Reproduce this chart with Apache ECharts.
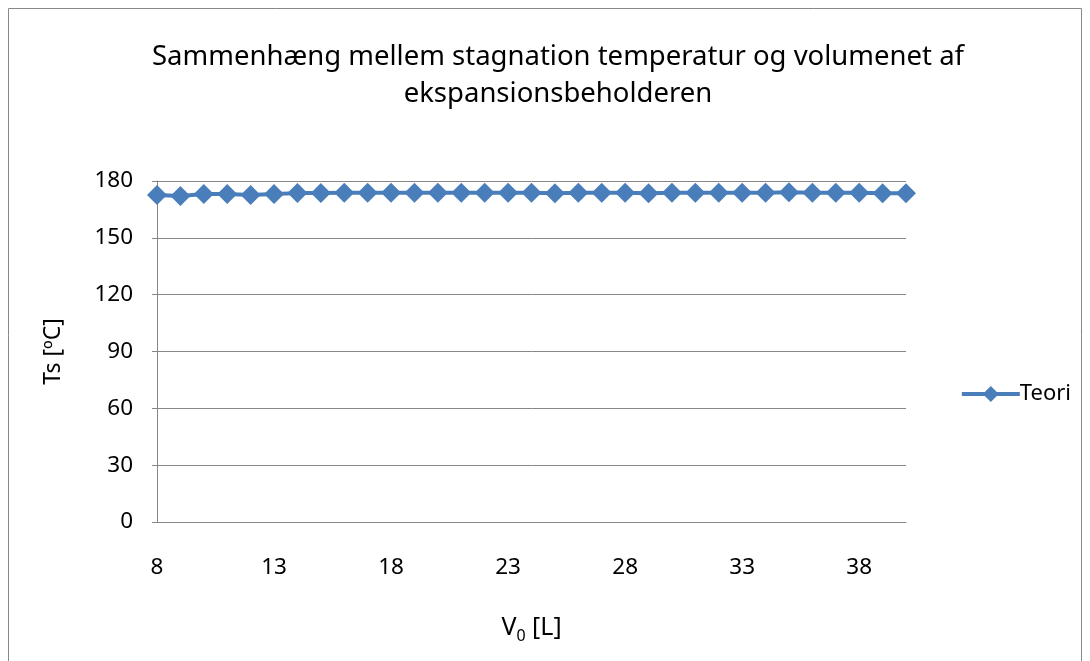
<!DOCTYPE html>
<html>
<head>
<meta charset="utf-8">
<title>Stagnation temperatur</title>
<script src="https://cdn.jsdelivr.net/npm/echarts@6/dist/echarts.min.js"></script>
<style>
  html, body { margin: 0; padding: 0; background: #fff; }
  #chart { width: 1090px; height: 661px; }
</style>
</head>
<body>
<div id="chart"></div>
<script>
// V0 [L] categories
const volumes = [8, 9, 10, 11, 12, 13, 14, 15, 16, 17, 18, 19, 20, 21, 22, 23, 24,
  25, 26, 27, 28, 29, 30, 31, 32, 33, 34, 35, 36, 37, 38, 39, 40]
// Ts [°C], Teori
const teori = [172.6, 172.1, 173.1, 173.1, 172.6, 173.1, 173.6, 173.6, 173.8, 173.8,
  173.8, 173.8, 173.8, 173.8, 173.8, 173.8, 173.8, 173.5, 173.8, 173.8, 173.8, 173.5,
  173.8, 173.8, 173.8, 173.8, 173.8, 174.1, 173.8, 173.8, 173.8, 173.5, 173.5]
const yTicks = { min: 0, max: 180, interval: 30 }

const BLUE = '#4a7ebb'
const GRID_GRAY = '#878787'
const FONT = "'Noto Sans', 'DejaVu Sans', sans-serif"

const chart = echarts.init(document.getElementById('chart'))
chart.setOption({
  animation: false,
  textStyle: { fontFamily: FONT },
  title: {
    text: 'Sammenhæng mellem stagnation temperatur og volumenet af\nekspansionsbeholderen',
    left: 553,
    textAlign: 'center',
    top: 34,
    textStyle: { fontSize: 27.5, fontWeight: 'normal', color: '#000', lineHeight: 37, fontFamily: FONT },
  },
  graphic: [{
    type: 'rect',
    shape: { x: 8.5, y: 8.5, width: 1073, height: 700 },
    style: { fill: 'none', stroke: '#888', lineWidth: 1 },
    silent: true,
  }],
  legend: {
    right: 14,
    top: 378,
    itemWidth: 58,
    itemHeight: 20,
    itemGap: 0,
    lineStyle: { width: 4 },
    textStyle: { fontSize: 22, color: '#000', fontFamily: FONT, padding: [0, 0, 0, -5] },
    data: ['Teori'],
  },
  grid: { left: 157, right: 184, top: 181, bottom: 139 },
  xAxis: {
    type: 'category',
    data: volumes,
    boundaryGap: false,
    name: '{v|V}{s|0}{v| [L]}',
    nameLocation: 'middle',
    nameGap: 90,
    nameTextStyle: {
      rich: {
        v: { fontSize: 25, color: '#000', fontFamily: FONT },
        s: { fontSize: 16, color: '#000', fontFamily: FONT, padding: [16, 0, 0, 0] },
      },
    },
    axisLine: { lineStyle: { color: GRID_GRAY, width: 1 } },
    axisTick: { show: false },
    axisLabel: { interval: 4, margin: 34, fontSize: 22.5, color: '#000' },
    splitLine: { show: false },
  },
  yAxis: {
    type: 'value',
    min: yTicks.min,
    max: yTicks.max,
    interval: yTicks.interval,
    name: 'Ts [ºC]',
    nameLocation: 'middle',
    nameGap: 92,
    nameTextStyle: { fontSize: 23, color: '#000' },
    axisLine: { show: true, lineStyle: { color: GRID_GRAY, width: 1 } },
    axisTick: { show: true, length: 5, lineStyle: { color: GRID_GRAY } },
    axisLabel: { margin: 24, fontSize: 22.5, color: '#000' },
    splitLine: { lineStyle: { color: GRID_GRAY, width: 1 } },
  },
  series: [{
    name: 'Teori',
    type: 'line',
    data: teori,
    symbol: 'diamond',
    symbolSize: 20,
    showAllSymbol: true,
    lineStyle: { color: BLUE, width: 4 },
    itemStyle: { color: BLUE },
  }],
})
</script>
</body>
</html>
